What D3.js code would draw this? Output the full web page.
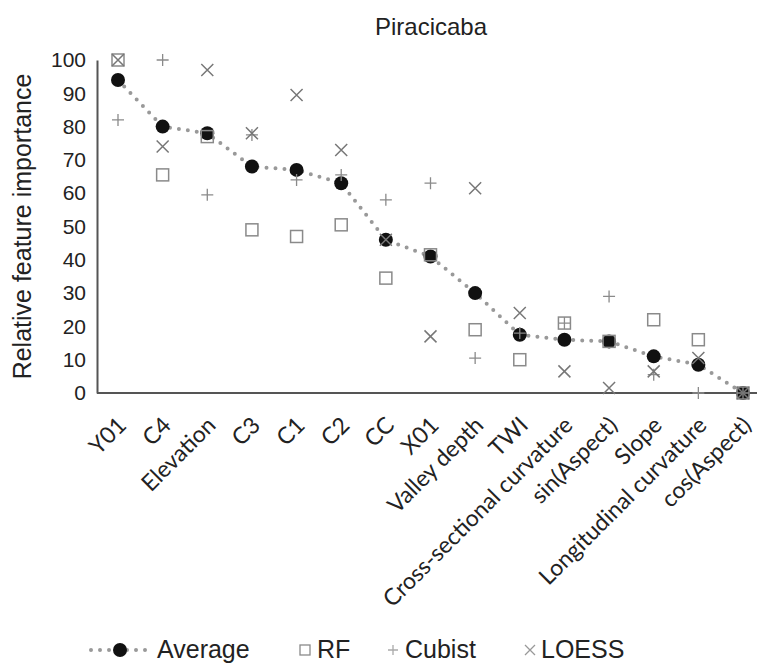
<!DOCTYPE html>
<html lang="en">
<head>
    <meta charset="UTF-8">
    <title>Piracicaba</title>
    <script src="https://d3js.org/d3.v7.min.js"></script>
    <style>
        body { margin: 0; background: #fff; }
        text { font-family: "Liberation Sans", Arial, sans-serif; fill: #222; }
        .xlab { font-family: Lato, "Open Sans", sans-serif; }
    </style>
</head>
<body>
<svg width="757" height="666"></svg>
<script>

    var categories = ['Y01', 'C4', 'Elevation', 'C3', 'C1', 'C2', 'CC', 'X01', 'Valley depth', 'TWI',
        'Cross-sectional curvature', 'sin(Aspect)', 'Slope', 'Longitudinal curvature', 'cos(Aspect)'];
    var average = [94, 80, 78, 68, 67, 63, 46, 41, 30, 17.5, 16, 15.5, 11, 8.5, 0];
    var rf = [100, 65.5, 77, 49, 47, 50.5, 34.5, 41.5, 19, 10, 21, 15.5, 22, 16, 0];
    var cubist = [82, 100, 59.5, 77.5, 64, 65.5, 58, 63, 10.5, 18, 21, 29, 5.5, 0, 0];
    var loess = [100, 74, 97, 78, 89.5, 73, 46, 17, 61.5, 24, 6.5, 1.5, 6.5, 10.5, 0];
    var yTicks = [0, 10, 20, 30, 40, 50, 60, 70, 80, 90, 100];

    var svg = d3.select('svg');
    var plotLeft = 97, plotRight = 757, plotTop = 60, plotBottom = 393;
    var grey = '#8a8a8a';

    var x = d3.scalePoint()
            .domain(categories)
            .range([118, 743]);

    var y = d3.scaleLinear()
            .domain([0, 100])
            .range([plotBottom, plotTop]);

    // title
    svg.append('text')
            .attr('x', 431).attr('y', 35)
            .attr('text-anchor', 'middle')
            .style('font-size', '24px')
            .text('Piracicaba');

    // y axis
    var yAxis = d3.axisLeft(y).tickValues(yTicks).tickSize(0).tickPadding(11);
    var gY = svg.append('g')
            .attr('transform', 'translate(' + plotLeft + ',0)')
            .call(yAxis);
    gY.select('.domain').attr('stroke', '#555').attr('stroke-width', 2);
    gY.selectAll('text')
            .style('font-size', '21px')
            .style('font-family', '"Liberation Sans", Arial, sans-serif')
            .attr('fill', '#222');

    svg.append('text')
            .attr('transform', 'translate(31,' + (plotTop + plotBottom) / 2 + ') rotate(-90)')
            .attr('text-anchor', 'middle')
            .style('font-size', '25px')
            .text('Relative feature importance');

    // x axis
    svg.append('line')
            .attr('x1', plotLeft).attr('x2', plotRight)
            .attr('y1', plotBottom).attr('y2', plotBottom)
            .attr('stroke', '#555').attr('stroke-width', 2);

    svg.append('g').selectAll('text')
            .data(categories)
            .join('text')
            .attr('class', 'xlab')
            .attr('transform', function (d) { return 'translate(' + (x(d) + 4) + ',421) rotate(-45)'; })
            .attr('text-anchor', 'end')
            .attr('dy', '0.35em')
            .style('font-size', '23px')
            .attr('fill', '#333')
            .text(function (d) { return d; });

    // average dotted line
    var line = d3.line()
            .x(function (d, i) { return x(categories[i]); })
            .y(function (d) { return y(d); });

    svg.append('path')
            .datum(average)
            .attr('d', line)
            .attr('fill', 'none')
            .attr('stroke', '#999')
            .attr('stroke-width', 4)
            .attr('stroke-linecap', 'round')
            .attr('stroke-dasharray', '0,9');

    svg.append('g').selectAll('circle')
            .data(average)
            .join('circle')
            .attr('cx', function (d, i) { return x(categories[i]); })
            .attr('cy', function (d) { return y(d); })
            .attr('r', 7)
            .attr('fill', '#111');

    // RF squares
    svg.append('g').selectAll('rect')
            .data(rf)
            .join('rect')
            .attr('x', function (d, i) { return x(categories[i]) - 6; })
            .attr('y', function (d) { return y(d) - 6; })
            .attr('width', 12).attr('height', 12)
            .attr('fill', 'none')
            .attr('stroke', grey).attr('stroke-width', 1.5);

    // Cubist plus
    var plus = 'M-6,0H6M0,-6V6';
    svg.append('g').selectAll('path')
            .data(cubist)
            .join('path')
            .attr('transform', function (d, i) { return 'translate(' + x(categories[i]) + ',' + y(d) + ')'; })
            .attr('d', plus)
            .attr('stroke', grey).attr('stroke-width', 1.3);

    // LOESS cross
    var cross = 'M-6,-6L6,6M-6,6L6,-6';
    svg.append('g').selectAll('path')
            .data(loess)
            .join('path')
            .attr('transform', function (d, i) { return 'translate(' + x(categories[i]) + ',' + y(d) + ')'; })
            .attr('d', cross)
            .attr('stroke', '#777').attr('stroke-width', 1.5);

    // legend
    var lg = svg.append('g');
    var ly = 650;
    lg.append('line')
            .attr('x1', 91).attr('x2', 148).attr('y1', ly).attr('y2', ly)
            .attr('stroke', '#999').attr('stroke-width', 4)
            .attr('stroke-linecap', 'round').attr('stroke-dasharray', '0,9');
    lg.append('circle').attr('cx', 120).attr('cy', ly).attr('r', 7).attr('fill', '#111');
    lg.append('text').attr('x', 157).attr('y', 658).style('font-size', '25px').text('Average');

    lg.append('rect').attr('x', 300).attr('y', ly - 5).attr('width', 10).attr('height', 10)
            .attr('fill', 'none').attr('stroke', grey).attr('stroke-width', 1.3);
    lg.append('text').attr('x', 317).attr('y', 658).style('font-size', '25px').text('RF');

    lg.append('path').attr('transform', 'translate(393,' + ly + ')').attr('d', 'M-5,0H5M0,-5V5')
            .attr('stroke', '#aaa').attr('stroke-width', 1.3);
    lg.append('text').attr('x', 405).attr('y', 658).style('font-size', '25px').text('Cubist');

    lg.append('path').attr('transform', 'translate(530,' + ly + ')').attr('d', 'M-5,-5L5,5M-5,5L5,-5')
            .attr('stroke', '#999').attr('stroke-width', 1.3);
    lg.append('text').attr('x', 541).attr('y', 658).style('font-size', '25px').text('LOESS');

</script>
</body>
</html>
